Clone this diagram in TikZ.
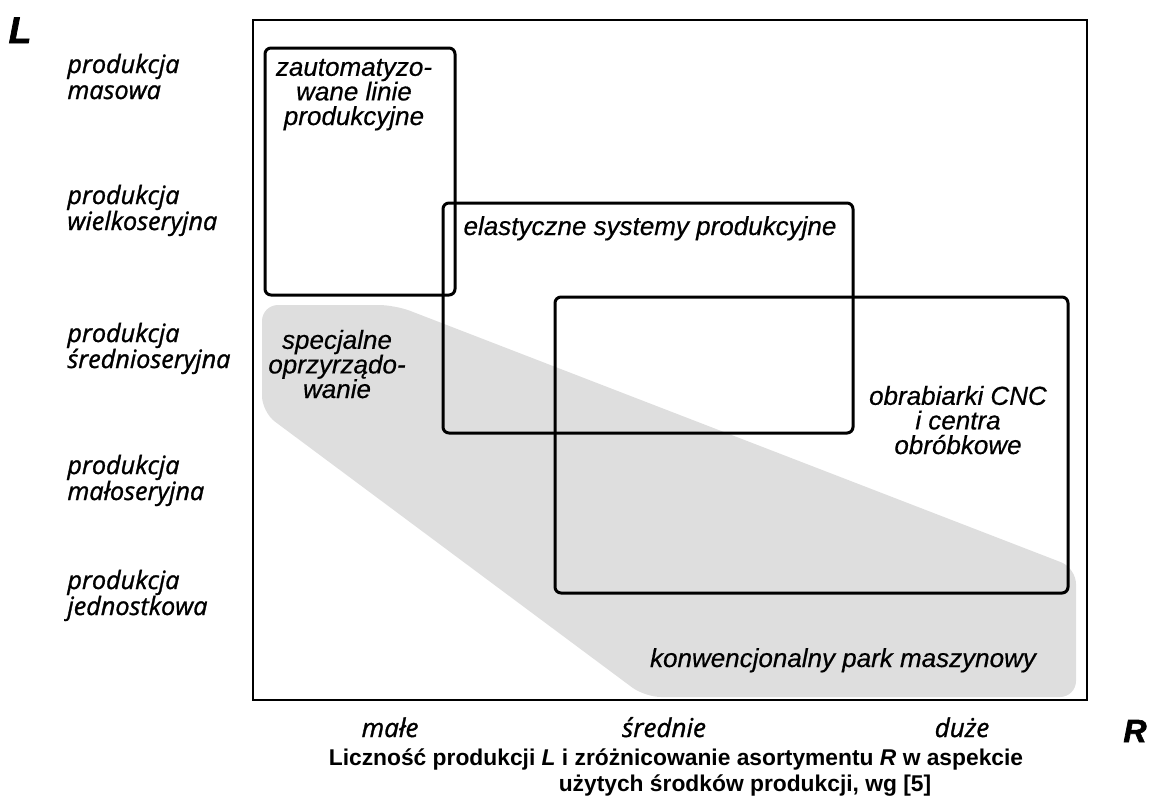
\documentclass[tikz,border=0pt]{standalone}
\usepackage{fontspec}
\setmainfont{Liberation Sans}
\newfontfamily\osfont{Open Sans}[FakeBold=1.2]
\newfontfamily\boxfont{Liberation Sans}[FakeBold=0.5]
\newfontfamily\heavyfont{Liberation Sans}[FakeBold=2]

\begin{document}
\begin{tikzpicture}[x=0.5pt, y=-0.5pt,
  box/.style={line width=1.5pt, rounded corners=3pt},
  level/.style={font=\osfont\itshape\fontsize{12.6}{13}\selectfont, align=left, anchor=base west, inner sep=0pt},
  inbox/.style={font=\boxfont\itshape\fontsize{13}{12.3}\selectfont, align=center, anchor=base, inner sep=0pt},
  axis/.style={font=\osfont\itshape\fontsize{13}{13}\selectfont, anchor=base, inner sep=0pt},
  big/.style={anchor=base, inner sep=0pt},
  caption/.style={font=\bfseries\fontsize{11.4}{13.2}\selectfont, anchor=base, inner sep=0pt}]

\useasboundingbox (0,0) rectangle (1154,805);

\fill[black!13, rounded corners=8pt] (262,305) -- (395,305) -- (1076,568) -- (1076,697)
  -- (645,697) -- (262,412) -- cycle;

\draw[line width=1.2pt] (253,20) rectangle (1087,700);
\draw[box] (265,48) rectangle (455,295);
\draw[box] (443,203) rectangle (853,433);
\draw[box] (555,297) rectangle (1068,593);

\node[big, font=\heavyfont\bfseries\itshape\fontsize{18.5}{18}\selectfont] (l) at (20,43) {L};
\node[big, font=\heavyfont\bfseries\itshape\fontsize{16}{16}\selectfont] (r) at (1135,742) {R};

\node[level] (masowa) at (67,99) {produkcja\\masowa};
\node[level] (wielko) at (67,230) {produkcja\\wielkoseryjna};
\node[level] (srednio) at (67,368) {produkcja\\średnioseryjna};
\node[level] (malo) at (67,500) {produkcja\\małoseryjna};
\node[level] (jedn) at (67,615) {produkcja\\jednostkowa};

\node[inbox] (auto) at (354,125) {zautomatyzo-\\wane linie\\produkcyjne};
\node[inbox] (elast) at (650,235) {elastyczne systemy produkcyjne};
\node[inbox] (spec) at (337,398) {specjalne\\oprzyrządo-\\wanie};
\node[inbox] (cnc) at (958,454) {obrabiarki CNC\\i centra\\obróbkowe};
\node[inbox] (konw) at (843,667) {konwencjonalny park maszynowy};

\node[axis] (male) at (390,737) {małe};
\node[axis] (sred) at (664,737) {średnie};
\node[axis] (duze) at (962,737) {duże};

\node[caption] (podpis) at (676,765)
  {Liczność produkcji \textit{L} i zróżnicowanie asortymentu \textit{R} w aspekcie};
\node[caption] (podpis2) at (745,791) {użytych środków produkcji, wg [5]};
\end{tikzpicture}
\end{document}
